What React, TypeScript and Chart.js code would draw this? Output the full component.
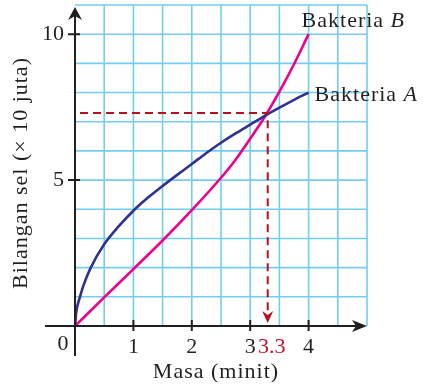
import { useEffect, useRef } from 'react';
import { Chart, registerables } from 'chart.js';

Chart.register(...registerables);

// Data
const massaA = [0, 0.02, 0.085, 0.15, 0.27, 0.5, 0.75, 1, 1.25, 1.5, 1.75, 2, 2.25, 2.5, 2.75, 3, 3.25, 3.5, 3.75, 4];
const bakteriaA = [0, 0.45, 1.0, 1.42, 2.0, 2.8, 3.42, 3.95, 4.4, 4.8, 5.18, 5.55, 5.93, 6.28, 6.6, 6.9, 7.2, 7.48, 7.75, 8.0];
const massaB = [0, 0.5, 1, 1.5, 2, 2.5, 2.75, 3, 3.25, 3.5, 3.75, 4];
const bakteriaB = [0, 0.98, 1.95, 2.93, 3.97, 5.08, 5.7, 6.42, 7.17, 8.03, 8.97, 10.0];
const xTickLabels = [1, 2, 3, 4];
const yTickLabels = [5, 10];
const crossX = 3.3;
const crossY = 7.3;
const crossLabel = '3.3';
const xTitle = 'Masa (minit)';
const yTitle = 'Bilangan sel (× 10 juta)';

const FONT = '"Liberation Serif", "Times New Roman", serif';
const GRID = '#72cdf1';
const AXIS = '#231f20';
const RED = '#b5121b';

const overlay = {
  id: 'overlay',
  beforeDatasetsDraw(chart: any) {
    const { ctx, scales } = chart;
    const xs = scales.x;
    const ys = scales.y;
    ctx.save();
    ctx.strokeStyle = GRID;
    ctx.lineWidth = 1.6;
    for (let v = 0.5; v <= xs.max + 1e-9; v += 0.5) {
      const px = xs.getPixelForValue(v);
      ctx.beginPath();
      ctx.moveTo(px, ys.getPixelForValue(0));
      ctx.lineTo(px, ys.getPixelForValue(ys.max));
      ctx.stroke();
    }
    for (let v = 1; v <= ys.max + 1e-9; v += 1) {
      const py = ys.getPixelForValue(v);
      ctx.beginPath();
      ctx.moveTo(xs.getPixelForValue(0), py);
      ctx.lineTo(xs.getPixelForValue(xs.max), py);
      ctx.stroke();
    }
    ctx.restore();
  },
  afterDatasetsDraw(chart: any) {
    const { ctx, scales } = chart;
    const xs = scales.x;
    const ys = scales.y;
    const ox = xs.getPixelForValue(0);
    const oy = ys.getPixelForValue(0);
    const xEnd = xs.getPixelForValue(xs.max);
    const yEnd = ys.getPixelForValue(ys.max);
    ctx.save();

    // dashed guide lines
    const cx = xs.getPixelForValue(crossX);
    const cy = ys.getPixelForValue(crossY);
    ctx.strokeStyle = RED;
    ctx.lineWidth = 2;
    ctx.setLineDash([8, 5]);
    ctx.beginPath();
    ctx.moveTo(ox + 5, cy);
    ctx.lineTo(cx, cy);
    ctx.lineTo(cx, oy - 12);
    ctx.stroke();
    ctx.setLineDash([]);
    ctx.fillStyle = RED;
    ctx.beginPath();
    ctx.moveTo(cx, oy - 3);
    ctx.lineTo(cx - 5.5, oy - 15);
    ctx.lineTo(cx, oy - 11);
    ctx.lineTo(cx + 5.5, oy - 15);
    ctx.closePath();
    ctx.fill();

    // axes
    ctx.strokeStyle = AXIS;
    ctx.fillStyle = AXIS;
    ctx.lineWidth = 2;
    ctx.beginPath();
    ctx.moveTo(ox - 30, oy);
    ctx.lineTo(xEnd - 6, oy);
    ctx.moveTo(ox, oy + 30);
    ctx.lineTo(ox, yEnd + 8);
    ctx.stroke();
    // x arrow
    ctx.beginPath();
    ctx.moveTo(xEnd, oy);
    ctx.lineTo(xEnd - 15, oy - 6);
    ctx.lineTo(xEnd - 11, oy);
    ctx.lineTo(xEnd - 15, oy + 6);
    ctx.closePath();
    ctx.fill();
    // y arrow
    ctx.beginPath();
    ctx.moveTo(ox, yEnd + 2);
    ctx.lineTo(ox - 7, yEnd + 15);
    ctx.lineTo(ox, yEnd + 11);
    ctx.lineTo(ox + 7, yEnd + 15);
    ctx.closePath();
    ctx.fill();

    // tick marks
    ctx.lineWidth = 2;
    ctx.beginPath();
    xTickLabels.forEach((v) => {
      const px = xs.getPixelForValue(v);
      ctx.moveTo(px, oy - 6);
      ctx.lineTo(px, oy + 5);
    });
    yTickLabels.forEach((v) => {
      const py = ys.getPixelForValue(v);
      ctx.moveTo(ox - 7, py);
      ctx.lineTo(ox + 5, py);
    });
    ctx.stroke();

    // tick labels
    ctx.font = `22px ${FONT}`;
    ctx.fillStyle = AXIS;
    ctx.textAlign = 'center';
    ctx.textBaseline = 'alphabetic';
    xTickLabels.forEach((v) => {
      ctx.fillText(String(v), xs.getPixelForValue(v), oy + 27);
    });
    ctx.fillText('0', ox - 12, oy + 24);
    ctx.textAlign = 'right';
    ctx.textBaseline = 'middle';
    yTickLabels.forEach((v) => {
      ctx.fillText(String(v), ox - 11, ys.getPixelForValue(v));
    });

    // crossing label
    ctx.fillStyle = '#c8102e';
    ctx.textAlign = 'center';
    ctx.textBaseline = 'alphabetic';
    ctx.fillText(crossLabel, cx + 4, oy + 27);

    // axis titles
    ctx.fillStyle = AXIS;
    ctx.font = `22px ${FONT}`;
    (ctx as any).letterSpacing = '1px';
    ctx.textAlign = 'center';
    ctx.fillText(xTitle, (ox + xEnd) / 2 - 5, oy + 52);
    ctx.save();
    ctx.translate(21, 173);
    ctx.rotate(-Math.PI / 2);
    ctx.textBaseline = 'middle';
    ctx.fillText(yTitle, 0, 0);
    ctx.restore();

    // series labels
    const drawLabel = (name: string, letter: string, x: number, y: number) => {
      ctx.textAlign = 'left';
      ctx.textBaseline = 'alphabetic';
      ctx.font = `22px ${FONT}`;
      ctx.fillText(name + ' ', x, y);
      const w = ctx.measureText(name + ' ').width;
      ctx.font = `italic 22px ${FONT}`;
      ctx.fillText(letter, x + w, y);
    };
    const ax = xs.getPixelForValue(massaA[massaA.length - 1]);
    const ay = ys.getPixelForValue(bakteriaA[bakteriaA.length - 1]);
    drawLabel('Bakteria', 'A', ax + 6, ay + 8);
    const bx = xs.getPixelForValue(massaB[massaB.length - 1]);
    const by = ys.getPixelForValue(bakteriaB[bakteriaB.length - 1]);
    drawLabel('Bakteria', 'B', bx - 7, by - 7);
    (ctx as any).letterSpacing = '0px';
    ctx.restore();
  },
};

export default function App() {
  const canvasRef = useRef<HTMLCanvasElement | null>(null);

  useEffect(() => {
    document.body.style.margin = '0';
    const canvas = canvasRef.current;
    if (!canvas) return;
    const chart = new Chart(canvas, {
      type: 'line',
      data: {
        datasets: [
          {
            label: 'Bakteria A',
            data: massaA.map((x, i) => ({ x, y: bakteriaA[i] })),
            borderColor: '#2e3192',
            borderWidth: 2.6,
            pointRadius: 0,
            cubicInterpolationMode: 'monotone',
            fill: false,
          },
          {
            label: 'Bakteria B',
            data: massaB.map((x, i) => ({ x, y: bakteriaB[i] })),
            borderColor: '#ec008c',
            borderWidth: 2.6,
            pointRadius: 0,
            cubicInterpolationMode: 'monotone',
            fill: false,
          },
        ],
      },
      options: {
        responsive: false,
        animation: false,
        devicePixelRatio: 1,
        layout: { padding: { left: 75, right: 56, top: 5, bottom: 61 } },
        scales: {
          x: { type: 'linear', min: 0, max: 5, display: false },
          y: { type: 'linear', min: 0, max: 11, display: false },
        },
        plugins: { legend: { display: false }, tooltip: { enabled: false } },
      },
      plugins: [overlay],
    } as any);
    return () => chart.destroy();
  }, []);

  return <canvas ref={canvasRef} width={423} height={387} style={{ display: 'block' }} />;
}
